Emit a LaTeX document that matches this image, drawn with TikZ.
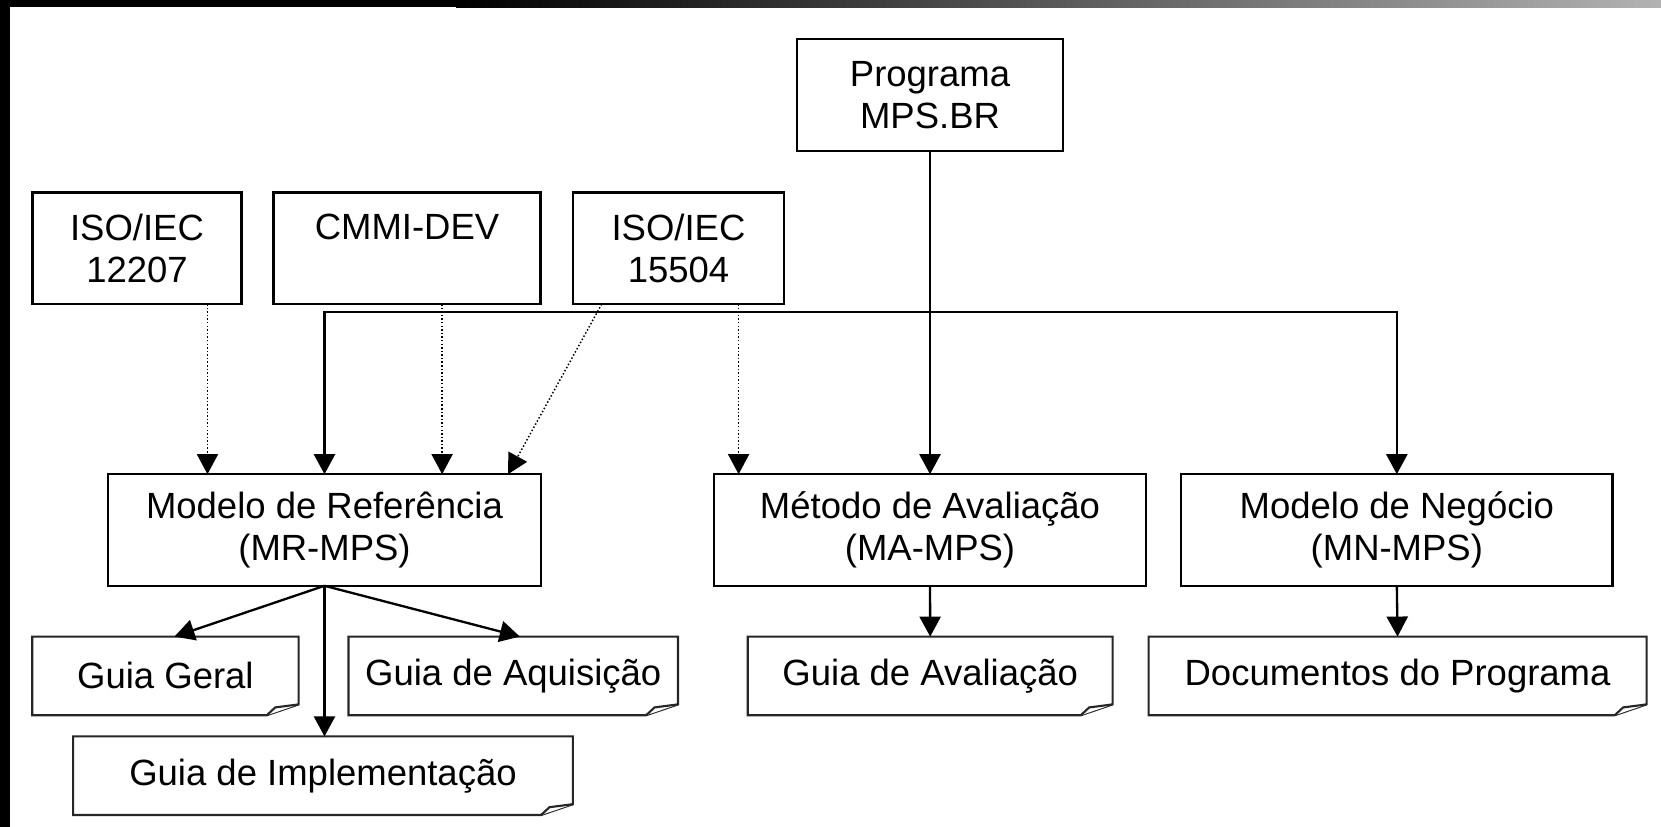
\documentclass[tikz,border=0pt]{standalone}
\usepackage{fontspec}
\setmainfont{Liberation Sans}
\usetikzlibrary{arrows.meta}

\newcommand{\docframe}[1]{%
  \draw[docline] (#1.north west) -- (#1.north east) -- ([yshift=0.18cm]#1.south east)
    -- ([xshift=-0.53cm]#1.south east) -- (#1.south west) -- cycle;
  \draw[docline,fill=white] ([xshift=-0.53cm]#1.south east) -- ([xshift=-0.39cm,yshift=0.13cm]#1.south east)
    -- ([yshift=0.18cm]#1.south east);}

\begin{document}
\begin{tikzpicture}[scale=1,inner sep=0pt,outer sep=0pt,line width=1.1pt,
>={Triangle[width=10pt,length=9.5pt]},font=\fontsize{17.3pt}{20pt}\selectfont,
blk/.style={draw,rectangle,align=center,minimum height=1.86cm},
docblk/.style={rectangle,align=center,minimum height=1.31cm},
docline/.style={line width=1pt,draw=black!85},
dep/.style={densely dotted,line width=0.7pt}]

\useasboundingbox (0,0) rectangle (27.683,13.783);
\fill[white] (0,0) rectangle (27.683,13.783);
\fill[black] (0,0) rectangle (0.167,13.783);
\fill[black] (0,13.666) rectangle (7.6,13.783);
\shade[left color=black,right color=black!30] (7.6,13.666) rectangle (27.683,13.783);

\draw (15.5,12.2) node[blk,minimum width=4.43cm] (prog) {Programa\\MPS.BR};
\draw (2.283,9.645) node[blk,minimum width=3.48cm] (iso12207) {ISO/IEC\\12207};
\draw (6.783,9.645) node[blk,minimum width=4.45cm] (cmmi) {CMMI-DEV\\\phantom{CMMI}};
\draw (11.308,9.645) node[blk,minimum width=3.52cm] (iso15504) {ISO/IEC\\15504};

\draw (5.408,4.95) node[blk,minimum width=7.22cm] (mr) {Modelo de Referência\\(MR-MPS)};
\draw (15.5,4.95) node[blk,minimum width=7.2cm] (ma) {Método de Avaliação\\(MA-MPS)};
\draw (23.28,4.95) node[blk,minimum width=7.19cm] (mn) {Modelo de Negócio\\(MN-MPS)};

\draw (2.757,2.518) node[docblk,minimum width=4.44cm] (gg) {Guia Geral};
\draw (8.554,2.518) node[docblk,minimum width=5.49cm] (ga) {Guia de Aquisição};
\draw (5.383,0.855) node[docblk,minimum width=8.33cm] (gi) {Guia de Implementação};
\draw (15.503,2.518) node[docblk,minimum width=6.08cm] (gav) {Guia de Avaliação};
\draw (23.292,2.518) node[docblk,minimum width=8.3cm] (dp) {Documentos do Programa};
\foreach \d in {gg,ga,gi,gav,dp} {\docframe{\d}}

\coordinate (busl) at ([yshift=2.705cm]mr.north);
\coordinate (mr1) at ([xshift=-1.95cm]mr.north);
\coordinate (mr2) at ([xshift=1.96cm]mr.north);
\coordinate (mr3) at ([xshift=-0.55cm]mr.north east);
\coordinate (ma1) at ([xshift=-3.19cm]ma.north);

\draw[<->] (mr.north) -- (busl) -| (mn.north);
\draw[->] (prog.south) -- (ma.north);
\draw[dep,->] (iso12207.south -| mr1) -- (mr1);
\draw[dep,->] (cmmi.south -| mr2) -- (mr2);
\draw[dep,->] ([xshift=0.48cm]iso15504.south west) -- (mr3);
\draw[dep,->] (iso15504.south -| ma1) -- (ma1);

\draw[->] (mr.south) -- ([xshift=0.15cm]gg.north);
\draw[->] (mr.south) -- ([xshift=0.11cm]ga.north);
\draw[->] (mr.south) -- (mr.south |- gi.north);
\draw[->] (ma.south) -- (gav.north);
\draw[->] (mn.south) -- (dp.north);
\end{tikzpicture}
\end{document}
